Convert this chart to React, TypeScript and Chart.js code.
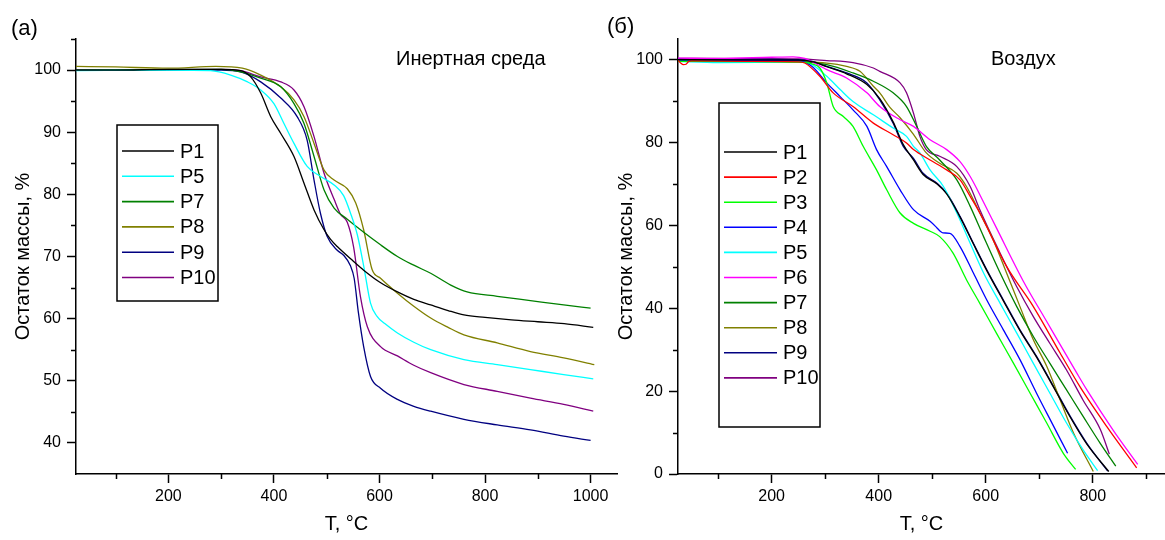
import React, { useEffect, useRef } from 'react';
import { Chart, registerables } from 'chart.js';

Chart.register(...registerables);

const FONT = '"Liberation Sans", Arial, sans-serif';

// ---------- Panel (a): inert atmosphere ----------
const L_P1 = [[25,100.0],[100,100.0],[200,100.1],[300,100.1],[337,99.9],[356,98.9],[375,96.3],[394,92.5],[413,89.8],[438,86.1],[457,81.8],[476,77.5],[495,74.3],[507,72.8],[520,71.6],[551,69.2],[570,67.8],[600,65.9],[634,64.3],[665,63.1],[697,62.2],[730,61.3],[760,60.6],[800,60.2],[850,59.8],[900,59.5],[950,59.2],[1005,58.6]];
const L_P5 = [[25,99.9],[200,100.0],[280,99.9],[318,99.2],[350,98.1],[375,96.8],[400,94.6],[419,91.4],[438,88.2],[463,84.5],[488,82.9],[514,81.5],[532,79.8],[545,77.0],[558,73.5],[570,68.5],[583,62.5],[595,60.4],[610,59.2],[634,57.7],[665,56.2],[697,55.0],[760,53.4],[823,52.6],[886,51.8],[949,51.0],[1005,50.3]];
const L_P7 = [[25,100.0],[300,100.1],[337,99.7],[375,98.7],[413,97.3],[438,94.6],[457,91.4],[476,86.1],[495,80.7],[514,77.8],[539,76.0],[564,74.3],[600,72.0],[634,70.0],[665,68.6],[697,67.3],[735,65.4],[766,64.3],[823,63.6],[886,62.9],[949,62.2],[1000,61.7]];
const L_P8 = [[25,100.6],[100,100.5],[200,100.3],[290,100.6],[340,100.3],[375,99.2],[413,97.3],[438,95.2],[457,92.5],[476,88.2],[495,83.9],[514,82.3],[539,80.9],[555,78.6],[570,74.3],[586,67.9],[602,66.5],[634,64.1],[665,62.0],[697,60.1],[730,58.6],[760,57.4],[823,56.1],[886,54.7],[949,53.7],[1007,52.6]];
const L_P9 = [[25,100.0],[300,100.0],[337,99.7],[375,98.1],[413,95.5],[444,92.5],[463,88.7],[476,82.3],[488,77.0],[501,73.2],[520,71.0],[532,70.2],[545,68.5],[552,66.5],[560,61.0],[570,55.5],[583,50.7],[602,48.8],[634,47.0],[665,45.9],[697,45.1],[760,43.8],[823,42.9],[886,42.1],[949,41.1],[1000,40.4]];
const L_P10 = [[25,100.0],[300,100.1],[337,99.9],[375,98.9],[413,98.1],[438,96.8],[457,94.1],[476,89.3],[495,83.4],[514,79.2],[526,76.8],[539,75.5],[551,71.5],[564,63.5],[577,58.7],[602,55.5],[634,54.0],[665,52.5],[697,51.3],[760,49.4],[823,48.3],[886,47.2],[949,46.2],[1005,45.1]];

const LEFT_SERIES = [L_P1, L_P5, L_P7, L_P8, L_P9, L_P10];
const LEFT_LABELS = ['P1', 'P5', 'P7', 'P8', 'P9', 'P10'];
const LEFT_COLORS = ['#000000', '#00FFFF', '#008000', '#808000', '#000080', '#800080'];
const LEFT_X_TICKS = [200, 400, 600, 800, 1000];
const LEFT_X_MINOR = [100, 300, 500, 700, 900];
const LEFT_Y_TICKS = [40, 50, 60, 70, 80, 90, 100];
const LEFT_Y_MINOR = [45, 55, 65, 75, 85, 95, 105];

// ---------- Panel (б): air ----------
const R_P1 = [[25,100.0],[250,99.9],[280,99.4],[303,98.3],[340,96.6],[378,94.0],[402,90.6],[427,85.0],[446,79.5],[465,75.8],[483,72.3],[509,70.0],[527,67.6],[552,62.0],[577,55.5],[602,49.1],[633,41.8],[664,34.6],[695,28.2],[727,20.9],[758,13.7],[789,7.2],[830,0.6]];
const R_P2 = [[25,99.9],[30,99.2],[35,98.8],[40,98.9],[45,99.6],[50,99.7],[150,99.6],[250,99.5],[262,99.2],[290,96.0],[315,92.0],[352,88.7],[390,84.7],[427,81.9],[452,79.9],[465,78.3],[496,75.8],[527,73.4],[552,71.0],[571,67.0],[589,63.0],[639,50.1],[689,40.4],[739,29.2],[776,21.1],[826,11.5],[882,1.5]];
const R_P3 = [[25,99.6],[250,99.4],[275,99.0],[290,98.0],[303,94.4],[315,88.7],[334,86.3],[352,83.9],[371,79.1],[396,73.4],[415,68.6],[440,63.0],[465,60.5],[496,58.6],[514,57.3],[539,53.3],[564,46.9],[589,41.2],[620,34.0],[652,26.7],[683,19.5],[714,12.3],[745,5.0],[768,1.1]];
const R_P4 = [[25,99.9],[250,99.8],[275,98.4],[303,94.4],[328,91.1],[352,87.9],[378,83.9],[396,78.3],[415,74.2],[440,68.6],[465,63.8],[496,61.0],[509,59.4],[515,58.6],[520,58.2],[533,58.1],[552,54.9],[577,48.5],[602,42.0],[633,34.8],[664,27.6],[695,19.5],[727,11.5],[753,5.0]];
const R_P5 = [[25,99.6],[100,99.3],[250,99.4],[269,99.2],[303,96.0],[328,92.8],[352,89.9],[390,86.7],[427,83.5],[452,81.5],[465,79.1],[477,77.5],[496,73.4],[521,69.4],[546,63.0],[571,55.7],[596,48.5],[627,41.2],[658,34.0],[689,26.7],[720,19.5],[751,12.3],[782,5.8],[809,0.8]];
const R_P6 = [[25,100.4],[100,100.3],[200,100.6],[240,100.7],[262,100.3],[280,99.2],[303,97.6],[340,95.6],[378,92.0],[402,88.7],[440,85.5],[465,83.9],[496,80.7],[527,78.3],[552,75.4],[571,71.8],[596,65.6],[620,59.4],[670,46.6],[714,36.8],[770,24.4],[789,20.3],[838,10.6],[884,2.3]];
const R_P7 = [[25,99.8],[250,99.6],[303,98.8],[352,96.8],[390,94.8],[427,92.0],[452,88.7],[471,83.9],[489,79.1],[514,75.8],[546,71.0],[571,64.6],[596,57.3],[627,48.5],[658,40.4],[689,33.2],[720,26.7],[751,20.3],[782,13.9],[814,7.4],[843,1.9]];
const R_P8 = [[25,99.6],[250,99.4],[303,99.2],[340,98.4],[365,97.2],[390,93.6],[402,92.0],[421,88.5],[440,86.0],[465,82.0],[489,77.5],[514,75.0],[546,72.6],[564,69.4],[589,63.0],[614,56.5],[639,48.5],[664,40.4],[689,32.4],[714,26.0],[739,17.9],[764,9.9],[801,0.6]];
const R_P9 = [[25,100.2],[250,100.0],[280,99.5],[303,98.4],[340,96.8],[378,94.4],[402,90.3],[427,84.7],[446,79.1],[465,76.2],[483,72.6],[509,70.2],[527,67.8],[552,62.2],[577,55.7],[602,49.3],[633,42.0],[664,34.8],[695,28.4],[727,21.1],[758,13.9],[789,7.4],[828,0.7]];
const R_P10 = [[25,100.3],[250,100.2],[303,99.8],[352,99.3],[390,98.0],[402,97.2],[440,94.4],[452,92.0],[465,87.1],[477,81.5],[489,78.3],[514,76.7],[546,74.2],[571,69.4],[589,63.8],[627,53.3],[658,45.2],[689,38.0],[720,31.5],[751,25.1],[782,17.8],[814,10.8],[831,4.8]];

const RIGHT_SERIES = [R_P1, R_P2, R_P3, R_P4, R_P5, R_P6, R_P7, R_P8, R_P9, R_P10];
const RIGHT_LABELS = ['P1', 'P2', 'P3', 'P4', 'P5', 'P6', 'P7', 'P8', 'P9', 'P10'];
const RIGHT_COLORS = ['#000000', '#FF0000', '#00FF00', '#0000FF', '#00FFFF', '#FF00FF', '#008000', '#808000', '#000080', '#800080'];
const RIGHT_X_TICKS = [200, 400, 600, 800];
const RIGHT_X_MINOR = [100, 300, 500, 700, 900];
const RIGHT_Y_TICKS = [0, 20, 40, 60, 80, 100];
const RIGHT_Y_MINOR = [10, 30, 50, 70, 90];

const decorPlugin = {
  id: 'decor',
  afterDraw(chart: any, _args: any, opts: any) {
    const ctx = chart.ctx as CanvasRenderingContext2D;
    const area = chart.chartArea;
    const xs = chart.scales.x;
    const ys = chart.scales.y;
    ctx.save();
    // minor ticks
    ctx.strokeStyle = '#000';
    ctx.lineWidth = 1.5;
    ctx.beginPath();
    for (const t of opts.xMinor) {
      const px = Math.round(xs.getPixelForValue(t)) + 0.5;
      ctx.moveTo(px, area.bottom);
      ctx.lineTo(px, area.bottom + 5);
    }
    for (const v of opts.yMinor) {
      const py = Math.round(ys.getPixelForValue(v)) + 0.5;
      ctx.moveTo(area.left, py);
      ctx.lineTo(area.left - 5, py);
    }
    ctx.stroke();

    // panel label and annotation
    ctx.fillStyle = '#000';
    ctx.textBaseline = 'middle';
    ctx.textAlign = 'left';
    ctx.font = `22px ${FONT}`;
    ctx.fillText(opts.panel[0], opts.panel[1], opts.panel[2]);
    ctx.textBaseline = 'alphabetic';
    ctx.font = `20px ${FONT}`;
    ctx.fillText(opts.note[0], opts.note[1], opts.note[2]);

    // legend box
    const lg = opts.legend;
    ctx.lineWidth = 1.5;
    ctx.strokeStyle = '#000';
    ctx.strokeRect(lg.x0, lg.y0, lg.x1 - lg.x0, lg.y1 - lg.y0);
    ctx.font = `20px ${FONT}`;
    ctx.textBaseline = 'middle';
    chart.data.datasets.forEach((ds: any, i: number) => {
      const y = lg.row0 + i * lg.step;
      ctx.strokeStyle = ds.borderColor;
      ctx.lineWidth = 1.6;
      ctx.beginPath();
      ctx.moveTo(lg.lx0, y);
      ctx.lineTo(lg.lx1, y);
      ctx.stroke();
      ctx.fillStyle = '#000';
      ctx.fillText(ds.label, lg.tx, y + 1);
    });
    ctx.restore();
  },
};

function buildConfig(p: any) {
  return {
    type: 'line',
    data: {
      datasets: p.series.map((s: number[][], i: number) => ({
        label: p.labels[i],
        data: s.map(([x, y]) => ({ x, y })),
        borderColor: p.colors[i],
        backgroundColor: p.colors[i],
        borderWidth: 1.3,
        pointRadius: 0,
        fill: false,
        cubicInterpolationMode: 'monotone',
      })),
    },
    options: {
      responsive: false,
      maintainAspectRatio: false,
      animation: false,
      events: [],
      layout: { padding: { top: 39, right: p.padRight, bottom: 0, left: 0 } },
      plugins: {
        legend: { display: false },
        tooltip: { enabled: false },
        decor: p.decor,
      },
      scales: {
        x: {
          type: 'linear',
          min: p.xMin,
          max: p.xMax,
          afterBuildTicks: (s: any) => { s.ticks = p.xTicks.map((v: number) => ({ value: v })); },
          afterFit: (s: any) => { s.height = 66; },
          grid: { drawOnChartArea: false, drawTicks: true, tickLength: 9, tickWidth: 1.5, tickColor: '#000' },
          border: { display: true, color: '#000', width: 1.5 },
          ticks: { font: { family: FONT, size: 16 }, color: '#000', padding: 4, maxRotation: 0, autoSkip: false, callback: (v: any) => String(v) },
          title: { display: true, text: 'T, °C', color: '#000', font: { family: FONT, size: 20 }, padding: { top: 0, bottom: 4 } },
        },
        y: {
          type: 'linear',
          min: p.yMin,
          max: p.yMax,
          afterBuildTicks: (s: any) => { s.ticks = p.yTicks.map((v: number) => ({ value: v })); },
          afterFit: (s: any) => { s.width = p.yWidth; },
          grid: { drawOnChartArea: false, drawTicks: true, tickLength: 9, tickWidth: 1.5, tickColor: '#000' },
          border: { display: true, color: '#000', width: 1.5 },
          ticks: { font: { family: FONT, size: 16 }, color: '#000', padding: 6, autoSkip: false, callback: (v: any) => String(v) },
          title: { display: true, text: 'Остаток массы, %', color: '#000', font: { family: FONT, size: 20 }, padding: { top: p.yTitlePad, bottom: 0 } },
        },
      },
    },
    plugins: [decorPlugin],
  } as any;
}

function Panel(props: { left: number; width: number; cfg: any }) {
  const ref = useRef<HTMLCanvasElement | null>(null);
  useEffect(() => {
    if (!ref.current) return;
    const chart = new Chart(ref.current, props.cfg);
    return () => chart.destroy();
  }, []);
  return (
    <canvas
      ref={ref}
      width={props.width}
      height={540}
      style={{ position: 'absolute', left: props.left, top: 0, width: props.width, height: 540 }}
    />
  );
}

const leftCfg = buildConfig({
  series: LEFT_SERIES,
  labels: LEFT_LABELS,
  colors: LEFT_COLORS,
  xMin: 25, xMax: 1050, xTicks: LEFT_X_TICKS,
  yMin: 35, yMax: 105, yTicks: LEFT_Y_TICKS,
  padRight: 23, yWidth: 76, yTitlePad: 11,
  decor: {
    xMinor: LEFT_X_MINOR, yMinor: LEFT_Y_MINOR,
    panel: ['(a)', 11, 29],
    note: ['Инертная среда', 396, 65],
    legend: { x0: 117, y0: 125, x1: 218, y1: 301, lx0: 122, lx1: 174, tx: 180, row0: 151, step: 25.3 },
  },
});

const RIGHT_LEFT = 590;
const rightCfg = buildConfig({
  series: RIGHT_SERIES,
  labels: RIGHT_LABELS,
  colors: RIGHT_COLORS,
  xMin: 25, xMax: 935, xTicks: RIGHT_X_TICKS,
  yMin: 0, yMax: 105, yTicks: RIGHT_Y_TICKS,
  padRight: 0, yWidth: 88, yTitlePad: 24,
  decor: {
    xMinor: RIGHT_X_MINOR, yMinor: RIGHT_Y_MINOR,
    panel: ['(б)', 607 - RIGHT_LEFT, 27],
    note: ['Воздух', 991 - RIGHT_LEFT, 65],
    legend: { x0: 719 - RIGHT_LEFT, y0: 103, x1: 820 - RIGHT_LEFT, y1: 427, lx0: 724 - RIGHT_LEFT, lx1: 777 - RIGHT_LEFT, tx: 783 - RIGHT_LEFT, row0: 152, step: 25.1 },
  },
});

export default function App() {
  return (
    <div style={{ position: 'fixed', left: 0, top: 0, width: 1165, height: 540, background: '#fff', overflow: 'hidden' }}>
      <Panel left={0} width={640} cfg={leftCfg} />
      <Panel left={RIGHT_LEFT} width={1165 - RIGHT_LEFT} cfg={rightCfg} />
    </div>
  );
}
